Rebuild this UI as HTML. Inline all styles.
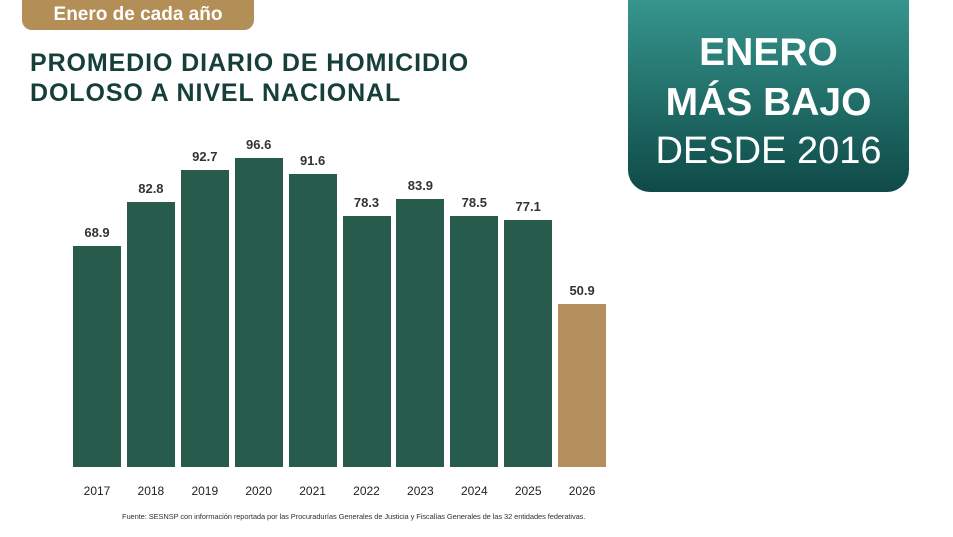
<!DOCTYPE html>
<html><head><meta charset="utf-8"><style>
body{margin:0;width:953px;height:537px;background:#fff;position:relative;overflow:hidden;font-family:"Liberation Sans",sans-serif}
.tag{position:absolute;left:22px;top:-10px;width:232px;height:40px;background:#b48e57;border-radius:10px;color:#fff;font-weight:bold;font-size:19px;text-align:center;line-height:50px}
.title{position:absolute;left:30px;top:48px;color:#173f3a;font-weight:900;font-size:25px;line-height:30px;letter-spacing:0.9px}
.box{position:absolute;left:628px;top:-20px;width:281px;height:212px;border-radius:22px;background:linear-gradient(#3a9d94,#0f4a48);color:#fff;text-align:center}
.box div{position:absolute;left:0;width:100%}
.bar{position:absolute;width:48px;background:#275c4c}
.v{position:absolute;width:60px;text-align:center;font-weight:bold;font-size:13px;color:#333}
.y{position:absolute;top:484px;width:60px;text-align:center;font-size:12px;color:#222}
.src{position:absolute;left:122px;top:512px;font-size:7.5px;color:#333;letter-spacing:-0.1px}
</style></head><body>
<div class="tag">Enero de cada año</div>
<div class="title">PROMEDIO DIARIO DE HOMICIDIO<br>DOLOSO A NIVEL NACIONAL</div>
<div class="box">
<div style="top:51px;font-size:39px;font-weight:900">ENERO</div>
<div style="top:101px;font-size:39px;font-weight:900">MÁS BAJO</div>
<div style="top:150px;font-size:38px">DESDE 2016</div>
</div>
<div id="c"></div>
<script>
var d=[[2017,68.9],[2018,82.8],[2019,92.7],[2020,96.6],[2021,91.6],[2022,78.3],[2023,83.9],[2024,78.5],[2025,77.1],[2026,50.9]];
var h='';d.forEach(function(e,i){var x=73+i*53.9,t=466.6-e[1]*3.195;
h+='<div class="bar" style="left:'+x+'px;top:'+t+'px;height:'+(466.6-t)+'px;'+(i==9?'background:#b48e5c':'')+'"></div>';
h+='<div class="v" style="left:'+(x-6)+'px;top:'+(t-21)+'px">'+e[1].toFixed(1)+'</div>';
h+='<div class="y" style="left:'+(x-6)+'px">'+e[0]+'</div>';});
document.getElementById('c').innerHTML=h;
</script>
<div class="src">Fuente: SESNSP con información reportada por las Procuradurías Generales de Justicia y Fiscalías Generales de las 32 entidades federativas.</div>
</body></html>
